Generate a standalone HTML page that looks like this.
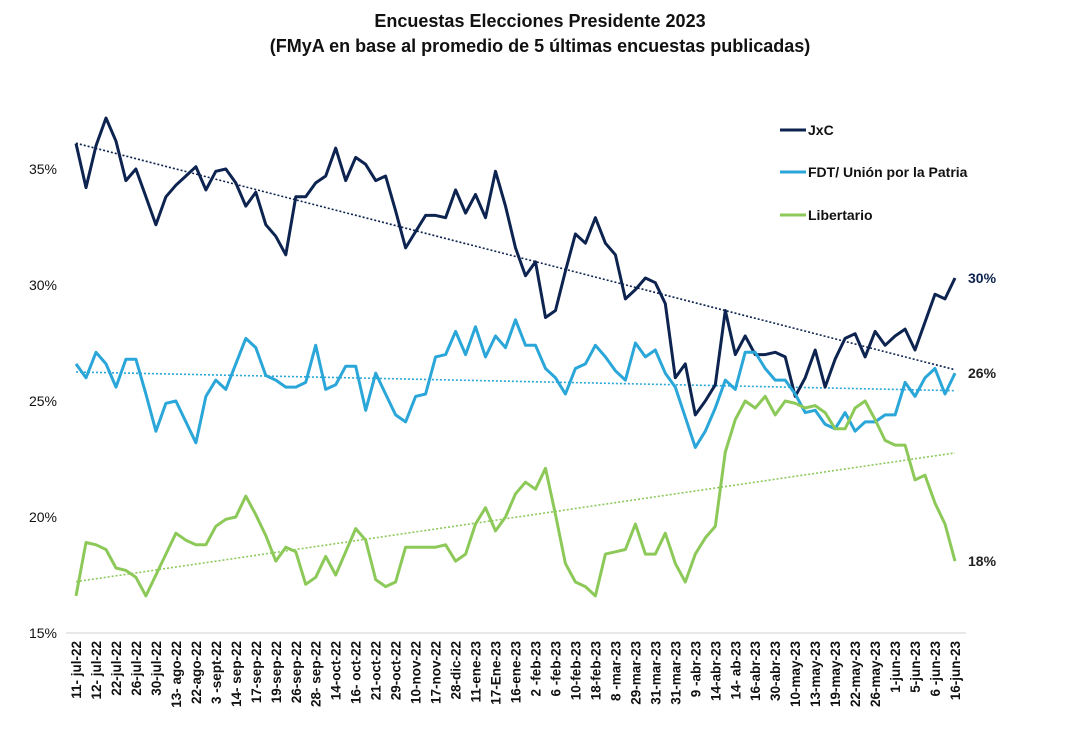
<!DOCTYPE html>
<html><head><meta charset="utf-8"><style>
html,body{margin:0;padding:0;background:#fff;}
svg{display:block;font-family:"Liberation Sans",Arial,sans-serif;}
</style></head><body>
<svg id="chart" width="1079" height="736" viewBox="0 0 1079 736">
<text x="540" y="27" text-anchor="middle" font-size="18" font-weight="bold" fill="#111">Encuestas Elecciones Presidente 2023</text>
<text x="540" y="52" text-anchor="middle" font-size="18" font-weight="bold" fill="#111">(FMyA en base al promedio de 5 últimas encuestas publicadas)</text>
<line x1="66" y1="633" x2="966" y2="633" stroke="#d0d0d0" stroke-width="1"/>
<g id="yticks"></g>
<g id="xticks"></g>
<g id="trends"></g>
<g id="series"></g>
<g id="endlabels"></g>
<g>
<line x1="780" y1="130" x2="806" y2="130" stroke="#0d2350" stroke-width="3"/>
<text x="808" y="135" font-size="14" font-weight="bold" fill="#111">JxC</text>
<line x1="780" y1="172" x2="806" y2="172" stroke="#2aa6d8" stroke-width="3"/>
<text x="808" y="177" font-size="14" font-weight="bold" fill="#111">FDT/ Unión por la Patria</text>
<line x1="780" y1="215" x2="806" y2="215" stroke="#8cc959" stroke-width="3"/>
<text x="808" y="220" font-size="14" font-weight="bold" fill="#111">Libertario</text>
</g>
</svg>
<script>
const xLabels = ["11- jul-22","12- jul-22","22-jul-22","26-jul-22","30-jul-22","13- ago-22","22-ago-22","3 -sept-22","14- sep-22","17-sep-22","19-sep-22","26-sep-22","28- sep-22","14-oct-22","16- oct-22","21-oct-22","29-oct-22","10-nov-22","17-nov-22","28-dic-22","11-ene-23","17-Ene-23","16-ene-23","2 -feb-23","6 -feb-23","10-feb-23","18-feb-23","8 -mar-23","29-mar-23","31-mar-23","31-mar-23","9 -abr-23","14-abr-23","14- ab-23","16-abr-23","30-abr-23","10-may-23","13-may-23","19-may-23","22-may-23","26-may-23","1-jun-23","5-jun-23","6 -jun-23","16-jun-23"];
const yTicks = [15,20,25,30,35];
const jxc = [36.1,34.2,36.0,37.2,36.2,34.5,35.0,33.8,32.6,33.8,34.3,34.7,35.1,34.1,34.9,35.0,34.4,33.4,34.0,32.6,32.1,31.3,33.8,33.8,34.4,34.7,35.9,34.5,35.5,
35.2,34.5,34.7,33.2,31.6,32.3,33.0,33.0,32.9,34.1,33.1,33.9,32.9,34.9,33.4,31.6,30.4,31.0,28.6,28.9,30.6,32.2,31.8,32.9,31.8,31.3,29.4,29.8,30.3,30.1,
29.2,26.0,26.6,24.4,25.0,25.7,28.9,27.0,27.8,27.0,27.0,27.1,26.9,25.2,26.0,27.2,25.6,26.8,27.7,27.9,26.9,28.0,27.4,27.8,28.1,27.2,28.4,29.6,29.4,30.3];
const fdt = [26.6,26.0,27.1,26.6,25.6,26.8,26.8,25.3,23.7,24.9,25.0,24.1,23.2,25.2,25.9,25.5,26.6,27.7,27.3,26.1,25.9,25.6,25.6,25.8,27.4,25.5,25.7,26.5,26.5,
24.6,26.2,25.3,24.4,24.1,25.2,25.3,26.9,27.0,28.0,27.0,28.2,26.9,27.8,27.3,28.5,27.4,27.4,26.4,26.0,25.3,26.4,26.6,27.4,26.9,26.3,25.9,27.5,26.9,27.2,
26.2,25.6,24.3,23.0,23.7,24.7,25.9,25.5,27.1,27.1,26.4,25.9,25.9,25.3,24.5,24.6,24.0,23.8,24.5,23.7,24.1,24.1,24.4,24.4,25.8,25.2,26.0,26.4,25.3,26.2];
const libertario = [16.6,18.9,18.8,18.6,17.8,17.7,17.4,16.6,17.5,18.4,19.3,19.0,18.8,18.8,19.6,19.9,20.0,20.9,20.1,19.2,18.1,18.7,18.5,17.1,17.4,18.3,17.5,18.5,19.5,
19.0,17.3,17.0,17.2,18.7,18.7,18.7,18.7,18.8,18.1,18.4,19.7,20.4,19.4,20.0,21.0,21.5,21.2,22.1,20.1,18.0,17.2,17.0,16.6,18.4,18.5,18.6,19.7,18.4,18.4,
19.3,18.0,17.2,18.4,19.1,19.6,22.8,24.2,25.0,24.7,25.2,24.4,25.0,24.9,24.7,24.8,24.5,23.8,23.8,24.7,25.0,24.2,23.3,23.1,23.1,21.6,21.8,20.6,19.7,18.1];
const endLabels = ["30%","26%","18%"];

const NS="http://www.w3.org/2000/svg";
const X0=76, X1=955, Y15=633, Y35=169;
function xi(i,n){return X0+(X1-X0)*i/(n-1);}
function yv(v){return Y15-(v-15)*(Y15-Y35)/20;}
function mk(tag,attrs,parent){const e=document.createElementNS(NS,tag);for(const k in attrs)e.setAttribute(k,attrs[k]);parent.appendChild(e);return e;}

const yt=document.getElementById('yticks');
yTicks.forEach(t=>{
  const e=mk('text',{x:57,y:yv(t)+5,'text-anchor':'end','font-size':14,fill:'#111'},yt);
  
  
  e.textContent=t+'%';
});
const xt=document.getElementById('xticks');
xLabels.forEach((l,i)=>{
  const x=xi(i,xLabels.length)+5, y=641;
  const e=mk('text',{x:x,y:y,'text-anchor':'end','font-size':13.5,'font-weight':'bold',fill:'#111',transform:`rotate(-90 ${x} ${y})`},xt);
  
  
  e.textContent=l;
});

const series=[[jxc,'#0d2350','jxc'],[fdt,'#2aa6d8','fdt'],[libertario,'#8cc959','libertario']];
const tg=document.getElementById('trends'), sg=document.getElementById('series'), eg=document.getElementById('endlabels');
series.forEach(([d,c,nm],si)=>{
  const n=d.length;
  let sx=0,sy=0,sxx=0,sxy=0;
  d.forEach((v,i)=>{sx+=i;sy+=v;sxx+=i*i;sxy+=i*v;});
  const b=(n*sxy-sx*sy)/(n*sxx-sx*sx), a=(sy-b*sx)/n;
  const tl=mk('line',{x1:xi(0,n),y1:yv(a),x2:xi(n-1,n),y2:yv(a+b*(n-1)),stroke:c,'stroke-width':1.6,'stroke-dasharray':'2 2'},tg);
  
  
  const pts=d.map((v,i)=>xi(i,n).toFixed(1)+','+yv(v).toFixed(1)).join(' ');
  const pl=mk('polyline',{points:pts,fill:'none',stroke:c,'stroke-width':3,'stroke-linejoin':'round'},sg);
  
  
  const yy=yv(d[n-1]);
  const el=mk('text',{x:968,y:yy+5,'font-size':14,'font-weight':'bold',fill:si===0?'#0d2350':'#222'},eg);
  
  
  el.textContent=endLabels[si];
});
</script>
</body></html>
